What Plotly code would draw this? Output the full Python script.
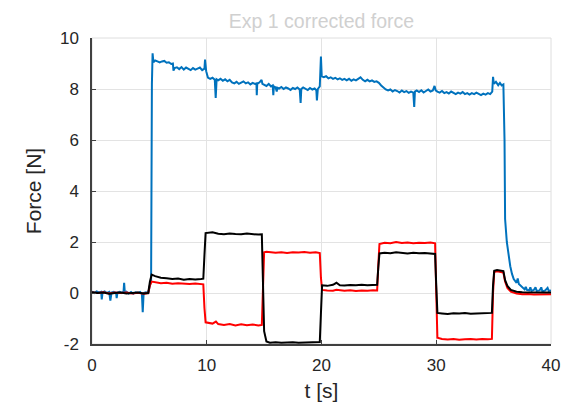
import plotly.graph_objects as go

# ---- data ----
t_blue = [0.0, 0.2, 0.4, 0.6, 0.8, 0.85, 0.92, 1.1, 1.3, 1.5, 1.6, 1.7, 1.9, 2.1, 2.15, 2.22,
          2.4, 2.6, 2.75, 2.8, 2.86, 3.0, 3.2, 3.4, 3.6, 3.8, 4.0, 4.2, 4.35, 4.42, 4.5, 4.7,
          4.9, 5.05, 5.15, 5.22, 5.28, 5.35,
          5.5, 5.7, 5.9, 6.1, 6.3, 6.5, 6.7, 6.9, 7.05, 7.1, 7.2, 7.4, 7.6, 7.8, 8.0, 8.2,
          8.4, 8.6, 8.8, 9.0, 9.2, 9.4, 9.6, 9.8, 9.85, 9.95,
          10.1, 10.3, 10.5, 10.7, 10.78, 10.86, 11.0, 11.2, 11.4, 11.6, 11.8, 12.0, 12.2,
          12.4, 12.6, 12.8, 13.0, 13.2, 13.4, 13.6, 13.8, 14.0, 14.2, 14.33, 14.36, 14.4,
          14.6, 14.78, 14.85, 15.0, 15.2, 15.4, 15.6, 15.75, 15.8, 15.85, 16.0, 16.1, 16.15,
          16.3, 16.5, 16.7, 16.9, 17.1, 17.3, 17.5, 17.7, 17.9, 18.1, 18.18, 18.24, 18.4,
          18.6, 18.8, 19.0, 19.2, 19.4, 19.55, 19.6, 19.68, 19.85, 19.9, 19.95, 20.02,
          20.2, 20.4, 20.6, 20.8, 21.0, 21.2, 21.4, 21.6, 21.8, 22.0, 22.2, 22.4, 22.6,
          22.8, 23.0, 23.2, 23.4, 23.6, 23.8, 24.0, 24.2, 24.4, 24.6, 24.8, 25.0, 25.2,
          25.4, 25.6, 25.8, 26.0, 26.2, 26.4, 26.6, 26.8, 27.0, 27.2, 27.4, 27.6, 27.8,
          28.0, 28.08, 28.14, 28.3, 28.5, 28.7, 28.9, 29.1, 29.3, 29.5, 29.7, 29.85, 29.95,
          30.1, 30.3, 30.5, 30.7, 30.9, 31.1, 31.3, 31.5, 31.7, 31.9, 32.1, 32.3, 32.5,
          32.7, 32.9, 33.1, 33.3, 33.5, 33.7, 33.9, 34.1, 34.3, 34.5, 34.7, 34.88, 34.95,
          35.02, 35.2, 35.4, 35.55, 35.7, 35.85, 35.95, 36.0, 36.15, 36.3, 36.45, 36.6,
          36.75, 37.0, 37.1, 37.2, 37.5, 37.7, 37.8, 37.9, 38.1, 38.2, 38.3, 38.5, 38.65,
          38.75, 39.0, 39.15, 39.25, 39.5, 39.7, 39.8, 40.0]
blue = [0.05, 0.0, 0.06, 0.02, 0.05, -0.25, 0.02, 0.06, 0.0, 0.04, -0.3, 0.02, 0.05, 0.0,
        -0.2, 0.02, 0.05, 0.0, 0.06, 0.4, 0.02, 0.05, -0.02, 0.04, -0.03, 0.03, 0.0, 0.04,
        -0.05, -0.75, 0.0, 0.03, 0.0, 0.3, 0.5, 8.2, 9.4, 9.05,
        9.12, 9.08, 9.04, 9.08, 9.1, 9.03, 9.05, 8.98, 9.0, 8.72, 8.82, 8.85, 8.78, 8.86,
        8.76, 8.84, 8.8, 8.74, 8.82, 8.76, 8.8, 8.84, 8.74, 8.8, 9.15, 8.7,
        8.45, 8.4, 8.44, 8.36, 7.65, 8.38, 8.34, 8.4, 8.32, 8.38, 8.3, 8.36, 8.26,
        8.22, 8.28, 8.2, 8.25, 8.3, 8.22, 8.26, 8.18, 8.24, 8.2, 8.22, 7.76, 8.2,
        8.26, 8.36, 8.2, 8.16, 8.12, 8.2, 8.1, 8.14, 7.76, 8.1, 8.06, 7.9, 8.05,
        8.02, 8.08, 8.0, 8.06, 8.02, 7.96, 8.04, 8.0, 8.06, 7.98, 7.45, 8.0, 8.06,
        8.0, 7.96, 8.04, 7.98, 8.02, 7.95, 7.55, 8.0, 8.1, 8.5, 9.27, 8.5,
        8.46, 8.5, 8.42, 8.46, 8.4, 8.44, 8.38, 8.42, 8.36, 8.4, 8.34, 8.4, 8.32,
        8.38, 8.34, 8.4, 8.46, 8.36, 8.3, 8.36, 8.3, 8.34, 8.28, 8.3, 8.24, 8.14,
        8.04, 7.98, 7.94, 7.98, 7.9, 7.96, 7.92, 7.86, 7.94, 7.88, 7.92, 7.85, 7.9,
        7.86, 7.3, 7.9, 7.94, 7.88, 7.95, 7.86, 7.92, 7.98, 7.9, 7.94, 8.12, 7.95,
        7.9, 7.86, 7.92, 7.84, 7.88, 7.82, 7.9, 7.84, 7.8, 7.86, 7.82, 7.88, 7.8,
        7.84, 7.78, 7.84, 7.8, 7.86, 7.8, 7.76, 7.82, 7.78, 7.84, 7.8, 7.9, 8.48,
        8.2, 8.28, 8.15, 8.24, 8.14, 8.18, 6.0, 2.9, 2.0, 1.5, 1.05, 0.75,
        0.55, 0.4, 0.57, 0.35, 0.2, 0.14, 0.24, 0.12, 0.1, 0.22, 0.08, 0.12, 0.22,
        0.08, 0.1, 0.22, 0.06, 0.1, 0.2, 0.08, 0.1]

t_rb = [0.0, 0.5, 1.0, 1.5, 2.0, 2.5, 3.0, 3.5, 4.0, 4.5, 4.9, 5.05, 5.2, 5.5, 6.0, 6.5, 7.0,
        7.5, 8.0, 8.5, 9.0, 9.5, 9.7, 9.8, 9.9, 10.5, 10.8, 11.0, 11.5, 12.0, 12.5, 13.0,
        13.5, 14.0, 14.5, 14.8, 14.9, 15.0, 15.2, 15.5, 16.0, 16.5, 17.0, 17.5, 18.0, 18.5,
        19.0, 19.5, 19.85, 19.95, 20.05, 20.5, 21.0, 21.3, 21.6, 22.0, 22.5, 23.0, 23.5,
        24.0, 24.5, 24.85, 24.95, 25.05, 25.5, 26.0, 26.5, 27.0, 27.5, 28.0, 28.5, 29.0,
        29.5, 29.9, 30.0, 30.1, 30.5, 31.0, 31.5, 32.0, 32.5, 33.0, 33.5, 34.0, 34.5,
        34.85, 34.95, 35.05, 35.3, 35.6, 35.85, 36.0, 36.2, 36.5, 37.0, 37.5, 38.0, 38.5,
        39.0, 39.5, 40.0]
red = [0.02, 0.0, 0.03, -0.02, 0.02, 0.0, 0.02, -0.02, 0.01, -0.03, 0.0, 0.3, 0.45, 0.42,
       0.38, 0.4, 0.36, 0.38, 0.37, 0.35, 0.37, 0.36, 0.34, -0.6, -1.15, -1.2, -1.12, -1.22,
       -1.25, -1.22, -1.27, -1.23, -1.26, -1.24, -1.27, -1.25, 0.5, 1.6, 1.62, 1.6, 1.58,
       1.6, 1.57, 1.6, 1.59, 1.61, 1.58, 1.6, 1.57, 0.6, 0.12, 0.1, 0.09, 0.13, 0.1, 0.09,
       0.11, 0.08, 0.1, 0.09, 0.11, 0.1, 1.1, 1.92, 1.97, 1.95, 2.0, 1.96, 1.98, 1.95,
       1.97, 1.96, 1.98, 1.95, 0.0, -1.75, -1.8, -1.82, -1.8, -1.83, -1.81, -1.8, -1.82,
       -1.8, -1.81, -1.8, 0.0, 0.82, 0.85, 0.83, 0.8, 0.45, 0.2, 0.05, -0.02, -0.05, -0.04,
       -0.06, -0.05, -0.06, -0.05]
black = [0.03, 0.0, 0.02, -0.03, 0.0, 0.02, -0.02, 0.0, 0.02, -0.02, 0.0, 0.45, 0.72, 0.66,
         0.6, 0.58, 0.55, 0.57, 0.52, 0.55, 0.53, 0.55, 0.56, 1.5, 2.35, 2.38, 2.33, 2.32,
         2.3, 2.33, 2.31, 2.3, 2.33, 2.3, 2.29, 2.3, 0.5, -1.5, -1.9, -1.95, -1.93, -1.95,
         -1.94, -1.93, -1.95, -1.94, -1.93, -1.94, -1.92, -0.8, 0.3, 0.28, 0.32, 0.4, 0.3,
         0.29, 0.31, 0.3, 0.32, 0.3, 0.31, 0.32, 1.0, 1.55, 1.58, 1.56, 1.6, 1.57, 1.55,
         1.58, 1.56, 1.57, 1.55, 1.53, 0.3, -0.78, -0.8, -0.82, -0.79, -0.8, -0.78, -0.81,
         -0.8, -0.79, -0.8, -0.78, 0.3, 0.87, 0.9, 0.88, 0.86, 0.5, 0.28, 0.12, 0.05, 0.03,
         0.02, 0.03, 0.01, 0.02, 0.02]

x_ticks = [0, 10, 20, 30, 40]
y_ticks = [-2, 0, 2, 4, 6, 8, 10]

# ---- figure ----
FONT = "Liberation Sans, Arial, sans-serif"
fig = go.Figure()
fig.add_trace(go.Scatter(x=t_blue, y=blue, mode="lines",
                         line=dict(color="#0072BD", width=2), showlegend=False))
fig.add_trace(go.Scatter(x=t_rb, y=red, mode="lines",
                         line=dict(color="#FF0000", width=2), showlegend=False))
fig.add_trace(go.Scatter(x=t_rb, y=black, mode="lines",
                         line=dict(color="#000000", width=2), showlegend=False))

axis_font = dict(family=FONT, size=17, color="#262626")
label_font = dict(family=FONT, size=21, color="#262626")

fig.update_layout(
    width=587, height=411,
    margin=dict(l=84, r=44, t=30, b=75),
    paper_bgcolor="white", plot_bgcolor="white",
    title=dict(text="Exp 1 corrected force", x=0.5, xanchor="center",
               xref="paper", y=0.967, yanchor="middle",
               font=dict(family=FONT, size=19.5, color="#d0d0d0")),
    xaxis=dict(range=[0, 40], tickvals=x_ticks, ticktext=[str(v) for v in x_ticks],
               showgrid=True, gridcolor="#e3e3e3", gridwidth=1,
               showline=True, linecolor="#404040", linewidth=1.5,
               ticks="inside", ticklen=4, tickcolor="#404040",
               zeroline=False, tickfont=axis_font, ticklabelstandoff=5,
               title=dict(text="t [s]", font=label_font, standoff=9)),
    yaxis=dict(range=[-2, 10], tickvals=y_ticks, ticktext=[str(v) for v in y_ticks],
               showgrid=True, gridcolor="#e3e3e3", gridwidth=1,
               showline=True, linecolor="#404040", linewidth=1.5,
               ticks="inside", ticklen=4, tickcolor="#404040",
               zeroline=False, tickfont=axis_font, ticklabelstandoff=8,
               title=dict(text="Force [N]", font=label_font, standoff=13)),
    shapes=[dict(type="rect", xref="paper", yref="paper", x0=0, y0=0, x1=1, y1=1,
                 line=dict(color="#dedede", width=1), layer="below")],
)

fig.write_html("out.html")
